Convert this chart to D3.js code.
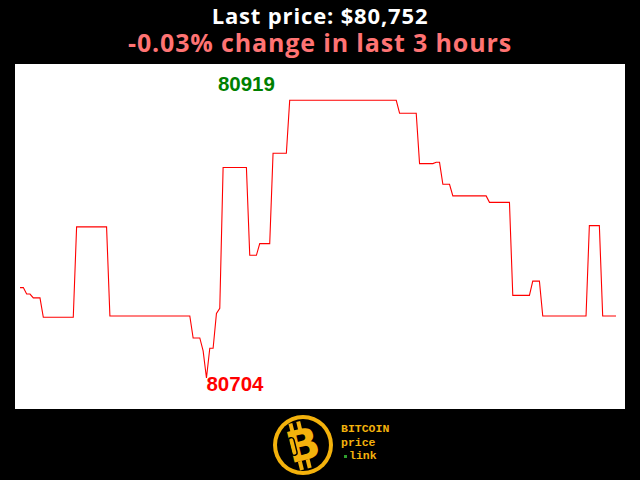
<!DOCTYPE html>
<html lang="en">
<head>
  <meta charset="UTF-8">
  <title>Bitcoin price - last 3 hours</title>
  <script src="https://d3js.org/d3.v7.min.js"></script>
  <style>
    html, body {
      margin: 0;
      padding: 0;
      background: #000;
    }
    #container {
      width: 640px;
      height: 480px;
    }
    .price-line {
      fill: none;
      stroke: #ff0000;
      stroke-width: 1.1;
    }
  </style>
</head>
<body>
  <div id="container"></div>

  <script>
    const width = 640;
    const height = 480;

    // minute index (one sample a minute, 180 samples) where the price changes
    const minutes = [0, 1, 2, 3, 4, 6, 7, 16, 17, 26, 27, 51, 52, 54, 55, 56, 57, 58, 59, 60,
                     61, 68, 69, 71, 72, 75, 76, 80, 81, 113, 114, 119, 120, 124, 125, 126, 127, 129, 130, 140,
                     141, 147, 148, 153, 154, 156, 157, 170, 171, 174, 175, 179];
    const prices  = [80774, 80774, 80769, 80769, 80766, 80766, 80751, 80751, 80821, 80821, 80752, 80752, 80735, 80735, 80725, 80704, 80727, 80727, 80754, 80758,
                     80867, 80867, 80799, 80799, 80808, 80808, 80878, 80878, 80919, 80919, 80909, 80909, 80870, 80870, 80871, 80871, 80854, 80854, 80845, 80845,
                     80840, 80840, 80768, 80768, 80779, 80779, 80752, 80752, 80822, 80822, 80752, 80752];
    const hours = 3;

    const data = minutes.map((m, i) => ({ m: m, p: prices[i] }));

    const svg = d3.select('#container').append('svg')
      .attr('width', width).attr('height', height);

    // white plot panel
    const panel = { x: 15, y: 64, w: 610, h: 345 };
    svg.append('rect')
      .attr('x', panel.x).attr('y', panel.y)
      .attr('width', panel.w).attr('height', panel.h)
      .attr('fill', '#fff');

    const maxP = d3.max(prices);
    const minP = d3.min(prices);
    const last = prices[prices.length - 1];
    const change = (last - prices[0]) / prices[0] * 100;

    const xScale = d3.scaleLinear().domain([0, d3.max(minutes)]).range([20, 616]);
    const yScale = d3.scaleLinear().domain([minP, maxP]).range([378, 100.3]);

    const line = d3.line()
      .x(d => xScale(d.m))
      .y(d => yScale(d.p));

    svg.append('path').datum(data).attr('d', line).attr('class', 'price-line');

    // high / low labels
    const minAt = data.find(d => d.p === minP).m;
    svg.append('text')
      .attr('x', xScale(68)).attr('y', yScale(maxP) - 9)
      .attr('text-anchor', 'middle')
      .attr('font-family', '"Liberation Sans", Arial, sans-serif')
      .attr('font-weight', 'bold').attr('font-size', 20.5)
      .attr('fill', '#008000')
      .text(maxP);
    svg.append('text')
      .attr('x', xScale(minAt)).attr('y', yScale(minP) + 13)
      .attr('font-family', '"Liberation Sans", Arial, sans-serif')
      .attr('font-weight', 'bold').attr('font-size', 20.5)
      .attr('fill', '#ff0000')
      .text(minP);

    // titles
    svg.append('text')
      .attr('x', 320).attr('y', 24)
      .attr('text-anchor', 'middle')
      .attr('font-family', '"Open Sans", sans-serif').attr('font-weight', 'bold')
      .attr('font-size', 22).attr('letter-spacing', 0.85).attr('fill', '#fff')
      .text('Last price: $' + d3.format(',')(last));
    svg.append('text')
      .attr('x', 320).attr('y', 52)
      .attr('text-anchor', 'middle')
      .attr('font-family', '"Open Sans", sans-serif').attr('font-weight', 'bold')
      .attr('font-size', 25).attr('letter-spacing', 0.85).attr('fill', '#ff7373')
      .text(change.toFixed(2) + '% change in last ' + hours + ' hours');

    // logo
    const gold = '#f4b20c';
    const logo = svg.append('g').attr('transform', 'translate(303,445)');
    logo.append('circle').attr('r', 30).attr('fill', gold);
    logo.append('circle').attr('r', 26).attr('fill', '#000');
    const b = logo.append('g').attr('transform', 'rotate(-14)');
    b.append('rect').attr('x', -9).attr('y', -24).attr('width', 4).attr('height', 9).attr('fill', gold);
    b.append('rect').attr('x', -1).attr('y', -24).attr('width', 4).attr('height', 9).attr('fill', gold);
    b.append('rect').attr('x', -9).attr('y', 15).attr('width', 4).attr('height', 9).attr('fill', gold);
    b.append('rect').attr('x', -1).attr('y', 15).attr('width', 4).attr('height', 9).attr('fill', gold);
    b.append('text')
      .attr('x', 0).attr('y', 15)
      .attr('text-anchor', 'middle')
      .attr('font-family', '"DejaVu Sans", sans-serif').attr('font-weight', 'bold')
      .attr('font-size', 43).attr('fill', gold)
      .text('B');
    b.append('rect').attr('x', -13).attr('y', -10).attr('width', 5.5).attr('height', 18)
      .attr('rx', 2.7).attr('fill', 'none').attr('stroke', '#000').attr('stroke-width', 1.4);

    const mono = svg.append('g')
      .attr('font-family', '"Liberation Mono", "DejaVu Sans Mono", monospace')
      .attr('font-weight', 'bold').attr('font-size', 11.5).attr('fill', gold);
    mono.append('text').attr('x', 341).attr('y', 432).text('BITCOIN');
    mono.append('text').attr('x', 341).attr('y', 446).text('price');
    mono.append('text').attr('x', 349).attr('y', 459).text('link');
    svg.append('rect').attr('x', 344).attr('y', 455).attr('width', 3).attr('height', 3).attr('fill', '#2e9e2e');
  </script>
</body>
</html>
